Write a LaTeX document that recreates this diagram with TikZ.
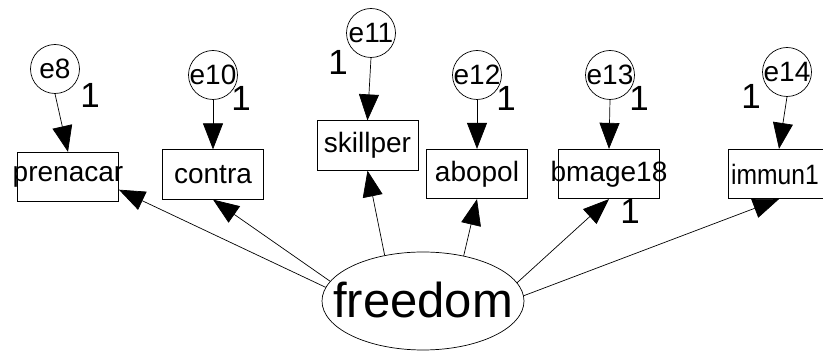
\documentclass[tikz,border=0pt]{standalone}
\usepackage{fontspec}
\setmainfont{Liberation Sans}
\usetikzlibrary{arrows.meta,shapes.geometric}
\begin{document}
\begin{tikzpicture}[x=1pt,y=-1pt,line width=0.7pt,
  every node/.style={inner sep=0pt},
  observed/.style={draw,rectangle,minimum width=101pt,minimum height=49.5pt,
    font=\fontsize{28}{30}\selectfont},
  errorterm/.style={draw,circle,minimum size=49pt,
    font=\fontsize{28}{30}\selectfont},
  latent/.style={draw,ellipse,minimum width=202pt,minimum height=98pt,
    font=\fontsize{49}{52}\selectfont},
  weight/.style={font=\fontsize{35}{36}\selectfont},
  regpath/.style={-{Triangle[length=26pt,width=20pt]}}
]
\useasboundingbox (0,0) rectangle (823,352);
\fill[white] (0,0) rectangle (823,352);
\clip (0,0) rectangle (823,352);

% observed indicators
\node[observed] (prenacar) at (68,177)    {\makebox[0pt]{prenacar}};
\node[observed] (contra)   at (213,174.5) {\makebox[0pt]{contra}};
\node[observed] (skillper) at (367.5,145.5) {\makebox[0pt]{skillper}};
\node[observed] (abopol)   at (477,174)   {\makebox[0pt]{abopol}};
\node[observed] (bmage18)  at (609,174)   {\makebox[0pt]{bmage18}};
\node[observed] (immun1)   at (779,174)
  {\makebox[0pt]{\scalebox{0.88}[1]{immun1}\hspace{8pt}}};

% error terms
\node[errorterm] (e8)  at (55,69)  {\makebox[0pt]{e8}};
\node[errorterm] (e10) at (213,75) {\makebox[0pt]{e10}};
\node[errorterm] (e11) at (371,33) {\makebox[0pt]{e11}};
\node[errorterm] (e12) at (477,75) {\makebox[0pt]{e12}};
\node[errorterm] (e13) at (610,75) {\makebox[0pt]{e13}};
\node[errorterm] (e14) at (787,72) {\makebox[0pt]{e14}};

% latent factor
\node[latent] (freedom) at (423,301) {\raisebox{2pt}{\makebox[0pt]{freedom}}};

% fixed weights
\node[weight] (w8)  at (90,95)  {1};
\node[weight] (w10) at (241,98) {1};
\node[weight] (w11) at (338,62) {1};
\node[weight] (w12) at (506,98) {1};
\node[weight] (w13) at (639,98) {1};
\node[weight] (w14) at (751,96) {1};
\node[weight] (wb)  at (630,211) {1};

% error paths
\draw[regpath] (e8.south)  -- (prenacar.north);
\draw[regpath] (e10.south) -- (contra.north);
\draw[regpath] (e11.south) -- (skillper.north);
\draw[regpath] (e12.south) -- (abopol.north);
\draw[regpath] (e13.south) -- (bmage18.north);
\draw[regpath] (e14.south) -- (immun1.north);

% factor loadings
\draw[regpath] (freedom.172) -- (prenacar.-14);
\draw[regpath] (freedom.168) -- (contra.south);
\draw[regpath] (freedom.130) -- (skillper.south);
\draw[regpath] (freedom.48)  -- (abopol.south);
\draw[regpath] (freedom.11)  -- (bmage18.south);
\draw[regpath] (freedom.3)   -- (immun1.south);
\end{tikzpicture}
\end{document}
